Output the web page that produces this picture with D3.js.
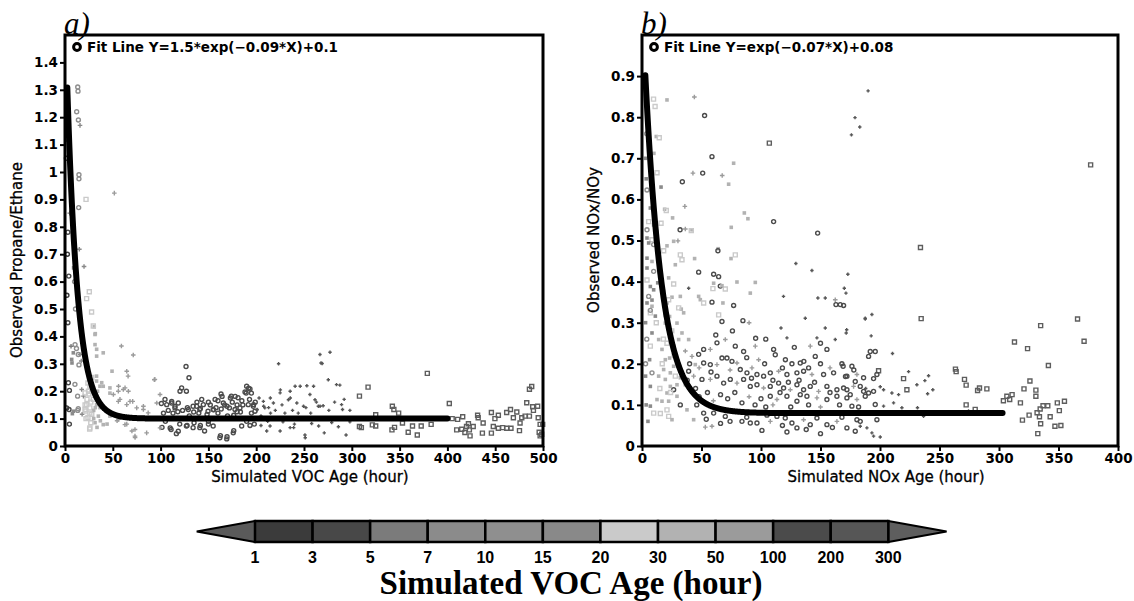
<!DOCTYPE html>
<html>
<head>
<meta charset="utf-8">
<script src="https://cdn.jsdelivr.net/npm/d3@7"></script>
<style>
body { margin: 0; background: #fff; }
text { font-family: "DejaVu Sans", sans-serif; }
</style>
</head>
<body>
<svg id="vimage" width="1134" height="601"></svg>
<script>
//---------------------------------------- data ---------------------------------------
// colour bar bins for simulated VOC age (hour)
var ageBreaks = [1, 3, 5, 7, 10, 15, 20, 30, 50, 100, 200, 300];
var ageColors = ["#5a5a5a", "#3b3b3b", "#484848", "#7b7b7b", "#8b8b8b", "#8f8f8f", "#898989",
                 "#cacaca", "#b2b2b2", "#9b9b9b", "#4b4b4b", "#565656", "#5e5e5e"];
var ageMarkers = ["dot", "circle", "circle", "plus", "fsquare", "circle", "plus",
                  "square", "fsquare", "plus", "circle", "splus", "square"];

// panel a) : [simulated VOC age, observed propane/ethane]
var propaneData = [
  [13.3,1.31],[13.6,1.295],[12.2,1.22],[14,1.19],[15.7,1.17],[14.6,0.99],[14.6,0.975],[14.3,0.87],[22,0.9],[51.6,0.923],
  [2,1.12],[1.5,1.05],[5,0.85],[3,0.78],[2.5,0.7],[4,0.62],[2,0.55],[3,0.45],[9,0.65],[10,0.6],[11,0.5],
  [15,0.718],[19.9,0.655],[25.4,0.563],[22.6,0.538],[27.8,0.489],[30.6,0.435],[31.7,0.41],[33.1,0.353],[33.1,0.328],
  [59,0.365],[71.4,0.332],[49.2,0.273],[64.6,0.273],[66,0.255],[126.6,0.29],[129.7,0.249],[93.4,0.242],[223.4,0.3],
  [7.3,0.303],[6.3,0.364],[12,0.356],[14.6,0.296],[15.6,0.334],[17,0.31],[10.4,0.225],[4.6,0.203],[13.2,0.182],
  [19.3,0.182],[24.6,0.2],[33,0.255],[36.6,0.218],[40,0.218],[47,0.193],[55.8,0.2],[62.8,0.212],[55.8,0.163],
  [64.6,0.151],[70.8,0.163],[75,0.139],[82,0.145],[4.2,0.133],[7.7,0.118],[13.3,0.13],[17.9,0.116],[21.7,0.128],
  [24,0.104],[28,0.116],[31.7,0.14],[25.8,0.062],[33.5,0.068],[37,0.092],[44,0.08],[54.5,0.092],[64.6,0.08],
  [73.3,0.031],[70,0.055],[4.6,0.08],[36.6,0.14],[100.8,0.155],[106.4,0.151],[111.6,0.163],[115.1,0.145],
  [120.3,0.2],[122,0.212],[101.5,0.068],[111,0.06],[116.5,0.045],[127.7,0.075],[141.6,0.075],[162.6,0.038],
  [169.5,0.034],[176.5,0.056],[134.6,0.124],[141.6,0.137],[148.6,0.115],[155.5,0.132],[164.3,0.181],[173,0.175],
  [178,0.181],[189.5,0.193],[192,0.211],[197.3,0.151],[200.8,0.132],[207.8,0.145],[214.8,0.175],[225.3,0.205],
  [235.7,0.175],[239.2,0.067],[176.5,0.112],[183.5,0.124],[169.5,0.145],
  [163.2,0.19],[190,0.218],[193.5,0.208],[188.3,0.197],[195,0.193],[174,0.182],[181,0.176],[165.6,0.157],
  [144.7,0.151],[137.7,0.145],[134,0.145],[141,0.133],[149.6,0.127],[155,0.133],[163.4,0.135],[172,0.139],
  [177.8,0.133],[183,0.139],[191.7,0.151],[197,0.145],[198.7,0.127],[201,0.133],[195,0.12],[207.5,0.163],
  [209,0.139],[218,0.157],[225,0.194],[235.5,0.2],[240.7,0.218],[246,0.218],[253,0.22],[260,0.218],[233.7,0.169],
  [242.5,0.157],[249.5,0.145],[261.5,0.169],[266.8,0.145],[270,0.147],[275.4,0.242],[269,0.301],[127,0.073],
  [134,0.067],[141,0.067],[146,0.055],[155,0.073],[162,0.03],[169.2,0.026],[176,0.048],[184.8,0.073],[193.5,0.075],
  [214.5,0.073],[225,0.055],[235.5,0.067],[251.3,0.03],[265.3,0.073],[271.2,0.048],[211,0.055],
  [266.7,0.334],[277.2,0.342],[267.8,0.303],[284,0.224],[287.5,0.222],[289.3,0.151],[290.3,0.133],[265,0.145],
  [256.2,0.188],[251,0.04],[294,0.04],[308,0.182],[317,0.215],[308,0.071],[310,0.067],[325,0.114],[321.5,0.077],
  [325,0.073],[342.4,0.145],[344,0.133],[342,0.059],[344.7,0.068],[349,0.12],[353,0.084],[359,0.05],[363.5,0.073],
  [368.5,0.04],[372.6,0.073],[379,0.265],[383,0.079],[402,0.155],[405,0.1],[410.7,0.097],[416,0.107],[409.7,0.059],
  [415,0.061],[418.3,0.049],[422,0.081],[420,0.071],[423,0.059],[423.7,0.037],[427,0.071],[431.6,0.112],
  [432.2,0.103],[437.4,0.084],[436.6,0.047],[446,0.122],[446,0.047],[448,0.071],[449.7,0.1],[453.3,0.112],
  [453.3,0.065],[457.8,0.067],[462,0.065],[462,0.122],[466,0.133],[466.5,0.065],[469,0.103],[472.6,0.124],
  [475.4,0.056],[477.8,0.103],[481.3,0.109],[483,0.158],[485.8,0.207],[488.2,0.217],[489.2,0.143],[490,0.13],
  [494.4,0.145],[495,0.103],[497,0.079],[496,0.05],[497,0.037],[498.6,0.043],[499.7,0.079],[476,0.084],[485.8,0.109],
  [212,0.09],[228,0.088],[246,0.1],[258,0.082],[279,0.086],[298,0.088],[286,0.07],
  [29.6,0.438],[31.4,0.407],[31.4,0.37],[10.5,0.37],[8.7,0.34],[7,0.316],[13.9,0.334],[40,0.34],[94,0.243],
  [3.5,0.231],[17.5,0.206],[21,0.194],[26,0.218],[27.9,0.2],[33,0.237],[38.4,0.231],[47,0.212],[56,0.218],
  [61,0.206],[66.3,0.2],[50.6,0.188],[57.5,0.17],[68,0.163],[82,0.133],[87,0.121],[96,0.157],[99.4,0.188],
  [104.6,0.17],[111.6,0.157],[115,0.139],[118.5,0.157],[127,0.2],[129,0.133],[1.7,0.139],[8.7,0.127],[13.9,0.136],
  [20.9,0.133],[22.7,0.151],[26,0.139],[29.6,0.17],[33,0.151],[34.9,0.109],[31.4,0.085],[26,0.066],[40,0.078],
  [47,0.109],[56,0.097],[62.7,0.078],[73.2,0.06],[73.2,0.036],[85.4,0.048],[99.4,0.066],[110,0.066],[118.5,0.054],
  [23,0.17],[25,0.19],[27,0.16],[29,0.21],[30,0.13],[24,0.23],[28,0.25],[26,0.12],[32,0.19],[22,0.1],[27,0.085],
  [30,0.1],[21,0.15],[34,0.2],
  [105,0.09],[130,0.11],[150,0.09],[170,0.11],[190,0.09],[205,0.11],[150,0.16],[158,0.14],[186,0.15],[160,0.165],
  [103,0.12],[108,0.13],[113,0.12],[118,0.125],[123,0.13],[128,0.14],[138,0.16],[143,0.17],[152,0.15],[157,0.17],
  [167,0.15],[175,0.16],[180,0.15],[185,0.165],[193,0.17],[199,0.16],[203,0.175],[213,0.14],[220,0.13],[227,0.15],
  [238,0.13],[244,0.12],[252,0.14],[257,0.12],[263,0.16],[276,0.13],[282,0.16],[292,0.17],[298,0.13],[230,0.12],
  [215,0.12],[140,0.12],[160,0.12],[180,0.125],[120,0.08],[135,0.085],[150,0.08],[198,0.08],[205,0.075],[240,0.08]
];

// panel b) : [simulated NOx age, observed NOx/NOy, simulated VOC age]
var noxData = [
  [9.7,0.844,25],[21,0.842,40],[44,0.849,60],[52.6,0.804,150],[107,0.737,350],[58.8,0.704,150],[42.8,0.664,60],
  [51,0.664,150],[33.9,0.643,150],[67.4,0.658,60],[77,0.688,40],[72.8,0.637,40],[86,0.567,40],[89,0.553,40],
  [110.6,0.546,150],[147.6,0.518,150],[75,0.532,40],[36,0.583,60],[25.7,0.555,40],[19,0.576,40],[190,0.864,250],
  [179,0.799,250],[183,0.776,250],[176,0.757,250],[32,0.526,150],[42,0.526,40],[64,0.48,40],[11,0.826,25],
  [12,0.753,40],[14.5,0.75,25],[10,0.712,40],[12.6,0.665,25],
  [4.2,0.623,12],[7,0.579,8],[5.6,0.546,25],[9.8,0.538,8],[4.2,0.526,12],[4.2,0.506,8],[8.4,0.502,25],[5.6,0.494,8],
  [9.8,0.49,12],[4.2,0.457,8],[8.4,0.449,40],[4.2,0.433,8],[9.8,0.425,12],[4.2,0.404,25],[7,0.388,8],[9.8,0.38,8],
  [5.6,0.364,12],[4.2,0.348,8],[8.4,0.34,40],[7,0.324,25],[11.2,0.316,8],[7,0.145,8],[8.4,0.178,12],[6.4,0.21,8],
  [7,0.243,25],[8.4,0.275,8],[7,0.33,12],[8.4,0.355,8],[13.2,0.397,8],[15.4,0.421,12],[7,0.097,8],[9.8,0.08,25],
  [3,0.7,8],[4,0.76,12],[3.5,0.65,8],[5,0.8,40],[3,0.3,8],[3,0.2,12],[3.5,0.1,8],[4,0.26,12],[3,0.17,8],[5,0.06,8],
  [16,0.63,8],[20.4,0.573,25],[16,0.542,25],[12.6,0.522,40],[36.4,0.528,60],[41.4,0.524,25],[26.6,0.498,40],
  [30.2,0.499,60],[21,0.487,40],[18.2,0.475,25],[63.8,0.475,150],[32.2,0.465,25],[33.6,0.453,25],[44.2,0.456,40],
  [74.8,0.456,40],[78.4,0.465,25],[28,0.441,40],[47.6,0.423,150],[60.2,0.418,150],[64.4,0.412,150],[79.8,0.399,40],
  [95.2,0.398,40],[22.4,0.409,40],[26.6,0.394,25],[39.2,0.384,250],[65.8,0.389,150],[70,0.382,25],[60.2,0.396,40],
  [47.6,0.364,40],[49,0.356,40],[32.2,0.364,40],[25.2,0.362,40],[21,0.348,40],[51.8,0.348,25],[58.8,0.35,150],
  [68,0.348,40],[77,0.342,150],[33,0.333,40],[64.4,0.319,25],
  [91,0.372,40],[67.2,0.39,40],[59.6,0.383,25],[129.3,0.444,250],[142.8,0.427,250],[118.9,0.364,250],
  [147.8,0.36,250],[154,0.36,250],[137.2,0.311,250],[147,0.263,250],[154,0.287,250],[162.4,0.356,60],
  [163,0.344,150],[166.6,0.344,150],[169.4,0.342,150],[170,0.384,250],[171.4,0.372,250],[173,0.418,250],
  [172,0.283,250],[171.6,0.275,250],[187.6,0.309,250],[162.4,0.259,250],[116.8,0.287,250],[121.8,0.263,250],
  [67.2,0.303,150],[84.8,0.305,150],[95.5,0.262,150],
  [155.4,0.235,150],[145.6,0.218,150],[136,0.206,150],[133,0.202,150],[120.5,0.21,150],[112,0.222,150],
  [110.6,0.235,150],[141.4,0.243,60],[95.2,0.243,60],[85.4,0.23,150],[78.4,0.243,150],[70,0.259,60],[63,0.251,150],
  [57.4,0.235,60],[51.8,0.235,150],[47.6,0.223,150],[51.8,0.202,150],[57.4,0.198,150],[63,0.198,60],[67.2,0.214,150],
  [71.4,0.214,150],[75.6,0.206,150],[79.8,0.202,60],[82.6,0.186,150],[88.2,0.178,150],[92.4,0.19,60],[96.6,0.174,150],
  [102.2,0.17,150],[107.8,0.178,150],[114.8,0.182,60],[121.8,0.174,150],[130.2,0.178,150],[135.8,0.182,150],
  [142.8,0.174,60],[152.6,0.174,150],[161,0.178,150],[172.2,0.17,150],[180.6,0.174,60],[186.2,0.166,150],
  [43.4,0.17,60],[39.2,0.182,150],[50.4,0.162,150],[57.4,0.162,60],[63,0.17,150],[68.6,0.153,150],[74.2,0.162,150],
  [79.8,0.153,60],[85.4,0.162,150],[91,0.145,150],[96.6,0.149,150],[102.2,0.141,60],[107.8,0.145,150],
  [114.8,0.153,150],[119,0.141,150],[124.6,0.137,60],[130.2,0.149,150],[135.8,0.137,150],[141.4,0.145,150],
  [148.4,0.133,60],[155.4,0.145,150],[163.8,0.137,150],[169.4,0.141,150],[177.8,0.145,60],[186.2,0.133,150],
  [107.8,0.121,150],[113.4,0.113,60],[121.8,0.121,150],[130.2,0.109,150],[138.6,0.121,150],[147,0.117,60],
  [155.4,0.113,150],[163.8,0.121,150],[172.2,0.117,150],[180.6,0.113,60],[187.6,0.121,150],[51.8,0.08,150],
  [60.2,0.08,150],[70,0.072,150],[77,0.084,60],[84,0.06,150],[91,0.056,150],[96.6,0.056,150],[100.8,0.038,150],
  [107.8,0.06,60],[113.4,0.072,150],[120.4,0.068,150],[126,0.056,150],[130.2,0.044,150],[121.8,0.034,150],
  [135.8,0.064,60],[141.4,0.052,150],[147,0.068,150],[155.4,0.052,150],[163.8,0.06,60],[172.2,0.044,150],
  [179.2,0.036,150],[183.4,0.06,150],[53.2,0.046,60],[58.8,0.048,60],[43.4,0.064,40],[37.8,0.088,40],[32.2,0.1,150],
  [26.6,0.137,150],[23.8,0.145,40],[21,0.129,40],[16.8,0.109,40],[12.6,0.113,40],[15.4,0.079,25],[21,0.088,25],
  [22.4,0.072,25],[25.2,0.064,40],
  [14,0.259,40],[16.8,0.235,40],[19.6,0.21,40],[18.2,0.186,40],[14,0.17,40],[19.6,0.162,40],[23.8,0.178,40],
  [26.6,0.194,40],[23.2,0.214,40],[26.6,0.243,40],[30.8,0.259,40],[33.6,0.275,40],[29.4,0.299,40],[23.8,0.275,40],
  [23.2,0.315,40],[30.8,0.336,25],[35,0.324,40],[19.6,0.299,40],[22.4,0.356,25],[18.2,0.376,40],[36.4,0.231,60],
  [42,0.218,60],[44.8,0.198,40],[39.2,0.259,40],[32.2,0.166,40],[36.4,0.149,40],[29.4,0.149,40],[22.4,0.109,40],
  [29.4,0.121,40],[17,0.2,25],[21,0.25,25],[25,0.28,25],[28,0.17,25],[15,0.14,25],[20,0.32,25],[12,0.3,25],
  [27,0.22,25],[24,0.13,25],[18,0.26,25],
  [193.2,0.32,250],[187.6,0.311,250],[192.6,0.268,250],[191.8,0.23,150],[196,0.23,150],[210.5,0.225,250],
  [190.4,0.218,150],[198.8,0.183,350],[197.4,0.174,150],[194.6,0.164,150],[176.4,0.194,150],[179.2,0.157,150],
  [183.4,0.145,150],[190.4,0.129,150],[194.6,0.133,150],[200.2,0.144,250],[203,0.137,250],[210,0.129,250],
  [215.6,0.125,250],[218.4,0.093,250],[196,0.101,150],[203,0.097,250],[211.4,0.105,250],[180.6,0.064,150],
  [183.4,0.048,250],[189,0.044,250],[193.2,0.032,250],[194.6,0.024,250],[200.2,0.022,250],[197.4,0.064,150],
  [187.6,0.08,150],[176.4,0.097,150],[172.2,0.137,150],[171,0.169,150],[169,0.194,150],
  [234.6,0.31,350],[234,0.483,350],[366,0.309,350],[371.5,0.255,350],[377,0.684,350],[335,0.293,350],
  [313,0.253,350],[324,0.237,350],[341.5,0.196,350],[326,0.158,350],[321,0.139,350],[331,0.136,350],
  [331,0.121,350],[311,0.125,350],[306.6,0.121,350],[303.7,0.11,350],[309,0.113,350],[318,0.105,350],
  [337,0.098,350],[341,0.098,350],[349,0.105,350],[355,0.109,350],[350.7,0.086,350],[334.6,0.09,350],
  [332,0.081,350],[334,0.071,350],[325.3,0.075,350],[319.7,0.063,350],[343,0.071,350],[335,0.054,350],
  [347,0.048,350],[352,0.05,350],[332.6,0.03,350],[263.4,0.187,350],[264,0.181,350],[271,0.162,350],
  [272.4,0.148,350],[283.6,0.141,350],[282,0.135,350],[289.8,0.139,350],[272.4,0.1,350],[280,0.089,350],
  [274.4,0.085,250],[237.7,0.159,250],[240.8,0.171,250],[244.4,0.137,250],[240,0.127,250],[222.6,0.137,350],
  [219.8,0.164,350],[224,0.181,250],[231,0.149,250],[231.5,0.093,250],[236.6,0.072,250],
  [45,0.14,150],[48,0.12,150],[55,0.13,150],[60,0.11,60],[66,0.125,150],[72,0.115,150],[78,0.13,150],[84,0.105,150],
  [90,0.12,60],[95,0.1,150],[100,0.115,150],[104,0.095,150],[110,0.1,60],[116,0.13,150],[125,0.095,150],
  [133,0.125,150],[140,0.1,150],[145,0.155,150],[150,0.095,60],[158,0.13,150],[166,0.1,150],[175,0.125,150],
  [182,0.095,150],[188,0.14,250],[118,0.19,150],[126,0.2,150],[103,0.2,150],[98,0.21,60],[88,0.215,150],
  [150,0.2,150],[158,0.19,60],[168,0.2,150],[178,0.185,150],[140,0.19,150],[132,0.16,150],[123,0.155,150],
  [110,0.16,150],[92,0.165,150],[74,0.185,60],[58,0.18,150],[48,0.19,60],[40,0.2,150],[38,0.16,150],[46,0.1,150],
  [54,0.065,150],[66,0.055,150],[74,0.06,150],[88,0.07,150],[105,0.075,150],[118,0.05,150],[138,0.04,150],
  [150,0.03,150],[160,0.045,150],[168,0.07,150],[62,0.27,150],[76,0.28,150],[90,0.3,60],[104,0.26,150],
  [128,0.24,150],[150,0.25,150]
];

// fit lines: Y = a*exp(-k*X) + c, drawn over [xStart, xEnd]
var fitA = [1.5, 0.09, 0.1, 2.4, 400];
var fitB = [1.0, 0.07, 0.08, 2.8, 303];

var yTicksA = [0, 0.1, 0.2, 0.3, 0.4, 0.5, 0.6, 0.7, 0.8, 0.9, 1, 1.1, 1.2, 1.3, 1.4];
var xTicksA = [0, 50, 100, 150, 200, 250, 300, 350, 400, 450, 500];
var yTicksB = [0, 0.1, 0.2, 0.3, 0.4, 0.5, 0.6, 0.7, 0.8, 0.9];
var xTicksB = [0, 50, 100, 150, 200, 250, 300, 350, 400];

//---------------------------------------- helpers ---------------------------------------
var svg = d3.select("#vimage");
var ageBin = d3.scaleThreshold().domain(ageBreaks).range(d3.range(ageColors.length));

function markerPath(type) {
    if (type == "circle") return "M-2,0a2,2 0 1,0 4,0a2,2 0 1,0 -4,0";
    if (type == "square") return "M-2,-2h4v4h-4z";
    if (type == "fsquare") return "M-1.8,-1.8h3.6v3.6h-3.6z";
    if (type == "plus") return "M-2.3,0h4.6M0,-2.3v4.6";
    if (type == "splus") return "M-1.7,0h3.4M0,-1.7v3.4";
    return "M-1.2,0a1.2,1.2 0 1,0 2.4,0a1.2,1.2 0 1,0 -2.4,0";
}
var filledTypes = {"fsquare": 1, "dot": 1};

function drawPanel(p) {
    var x = d3.scaleLinear().domain(p.xDomain).range([p.left, p.right]);
    var y = d3.scaleLinear().domain(p.yDomain).range([p.bottom, p.top]);
    var g = svg.append("g");

    // scatter
    g.append("g").selectAll("path")
        .data(p.data)
        .enter().append("path")
        .attr("transform", function(d) { return "translate(" + x(d[0]) + "," + y(d[1]) + ")"; })
        .attr("d", function(d) { return markerPath(ageMarkers[ageBin(p.age(d))]); })
        .style("fill", function(d) {
            var b = ageBin(p.age(d));
            return filledTypes[ageMarkers[b]] ? ageColors[b] : "none";
        })
        .style("stroke", function(d) {
            var b = ageBin(p.age(d));
            return filledTypes[ageMarkers[b]] ? "none" : ageColors[b];
        })
        .style("stroke-width", 1.4);

    // fit line
    var f = p.fit;
    var xs = d3.range(f[3], f[4], 0.25).concat([f[4]]);
    var line = d3.line()
        .x(function(v) { return x(v); })
        .y(function(v) { return y(f[0] * Math.exp(-f[1] * v) + f[2]); });
    g.append("path")
        .datum(xs)
        .attr("d", line)
        .style("fill", "none")
        .style("stroke", "#000")
        .style("stroke-width", 6)
        .style("stroke-linecap", "round")
        .style("stroke-linejoin", "round");

    // axes
    var ya = g.append("g")
        .attr("transform", "translate(" + p.left + ",0)")
        .call(d3.axisLeft(y).tickValues(p.yTicks).tickSize(5).tickPadding(2)
              .tickFormat(function(d) { return +d.toFixed(1); }));
    var xa = g.append("g")
        .attr("transform", "translate(0," + p.bottom + ")")
        .call(d3.axisBottom(x).tickValues(p.xTicks).tickSize(5).tickPadding(2));
    [ya, xa].forEach(function(a) {
        a.select(".domain").remove();
        a.selectAll(".tick line").style("stroke", "#000").style("stroke-width", 2);
        a.selectAll(".tick text")
            .style("font-family", "'DejaVu Sans', sans-serif")
            .style("font-weight", "bold")
            .style("font-size", "13.5px")
            .style("fill", "#000");
    });

    // frame
    g.append("rect")
        .attr("x", p.left).attr("y", p.top)
        .attr("width", p.right - p.left).attr("height", p.bottom - p.top)
        .style("fill", "none").style("stroke", "#000").style("stroke-width", 3);

    // titles
    g.append("text")
        .attr("x", (p.left + p.right) / 2 + 6)
        .attr("y", p.bottom + 36)
        .attr("text-anchor", "middle")
        .style("font-size", "15px")
        .style("stroke", "#000").style("stroke-width", 0.3)
        .text(p.xTitle);
    g.append("text")
        .attr("transform", "translate(" + (p.left - 43) + "," + p.yTitleMid + ") rotate(-90)")
        .attr("text-anchor", "middle")
        .style("font-size", "15px")
        .style("stroke", "#000").style("stroke-width", 0.3)
        .text(p.yTitle);

    // legend
    g.append("circle")
        .attr("cx", p.left + 12).attr("cy", p.top + 12).attr("r", 3.4)
        .style("fill", "none").style("stroke", "#000").style("stroke-width", 3);
    g.append("text")
        .attr("x", p.left + 22).attr("y", p.top + 17)
        .style("font-weight", "bold")
        .style("font-size", "13.5px")
        .text(p.legend);

    // panel tag
    g.append("text")
        .attr("x", p.left - 1).attr("y", p.top - 1)
        .style("font-family", "'Liberation Serif', 'Times New Roman', serif")
        .style("font-style", "italic")
        .style("font-size", "31px")
        .text(p.tag);
}

//---------------------------------------- panel a ---------------------------------------
drawPanel({
    data: propaneData, age: function(d) { return d[0]; },
    xDomain: [0, 500], yDomain: [0, 1.5],
    left: 65, right: 543, top: 35, bottom: 446,
    xTicks: xTicksA, yTicks: yTicksA, fit: fitA, yTitleMid: 260,
    xTitle: "Simulated VOC Age (hour)", yTitle: "Observed Propane/Ethane",
    legend: "Fit Line Y=1.5*exp(\u22120.09*X)+0.1", tag: "a)"
});

//---------------------------------------- panel b ---------------------------------------
drawPanel({
    data: noxData, age: function(d) { return d[2]; },
    xDomain: [0, 400], yDomain: [0, 1],
    left: 642, right: 1118, top: 35, bottom: 446,
    xTicks: xTicksB, yTicks: yTicksB, fit: fitB, yTitleMid: 240,
    xTitle: "Simulated NOx Age (hour)", yTitle: "Observed NOx/NOy",
    legend: "Fit Line Y=exp(\u22120.07*X)+0.08", tag: "b)"
});

//---------------------------------------- colour bar ---------------------------------------
var cbLeft = 255, cbRight = 888.3, cbTop = 521, cbBottom = 542, cbTip = 58.3;
var cbX = d3.scaleLinear().domain([0, ageBreaks.length - 1]).range([cbLeft, cbRight]);
var cb = svg.append("g");
var midY = (cbTop + cbBottom) / 2;

cb.append("path")
    .attr("d", "M" + cbLeft + "," + cbTop + "L" + (cbLeft - cbTip) + "," + midY + "L" + cbLeft + "," + cbBottom + "Z")
    .style("fill", ageColors[0]).style("stroke", "#000").style("stroke-width", 2);
cb.append("path")
    .attr("d", "M" + cbRight + "," + cbTop + "L" + (cbRight + cbTip) + "," + midY + "L" + cbRight + "," + cbBottom + "Z")
    .style("fill", ageColors[ageColors.length - 1]).style("stroke", "#000").style("stroke-width", 2);

cb.selectAll(".box")
    .data(ageBreaks.slice(0, -1))
    .enter().append("rect")
    .attr("class", "box")
    .attr("x", function(d, i) { return cbX(i); })
    .attr("y", cbTop)
    .attr("width", function(d, i) { return cbX(i + 1) - cbX(i); })
    .attr("height", cbBottom - cbTop)
    .style("fill", function(d, i) { return ageColors[i + 1]; })
    .style("stroke", "#000").style("stroke-width", 2.5);

cb.selectAll(".lab")
    .data(ageBreaks)
    .enter().append("text")
    .attr("class", "lab")
    .attr("x", function(d, i) { return cbX(i); })
    .attr("y", 563)
    .attr("text-anchor", "middle")
    .style("font-family", "'Liberation Sans', Arial, sans-serif")
    .style("font-weight", "bold")
    .style("font-size", "16px")
    .text(function(d) { return d; });

cb.append("text")
    .attr("x", 571)
    .attr("y", 594)
    .attr("text-anchor", "middle")
    .style("font-family", "'Liberation Serif', 'Times New Roman', serif")
    .style("font-weight", "bold")
    .style("font-size", "33px")
    .text("Simulated VOC Age (hour)");
</script>
</body>
</html>
